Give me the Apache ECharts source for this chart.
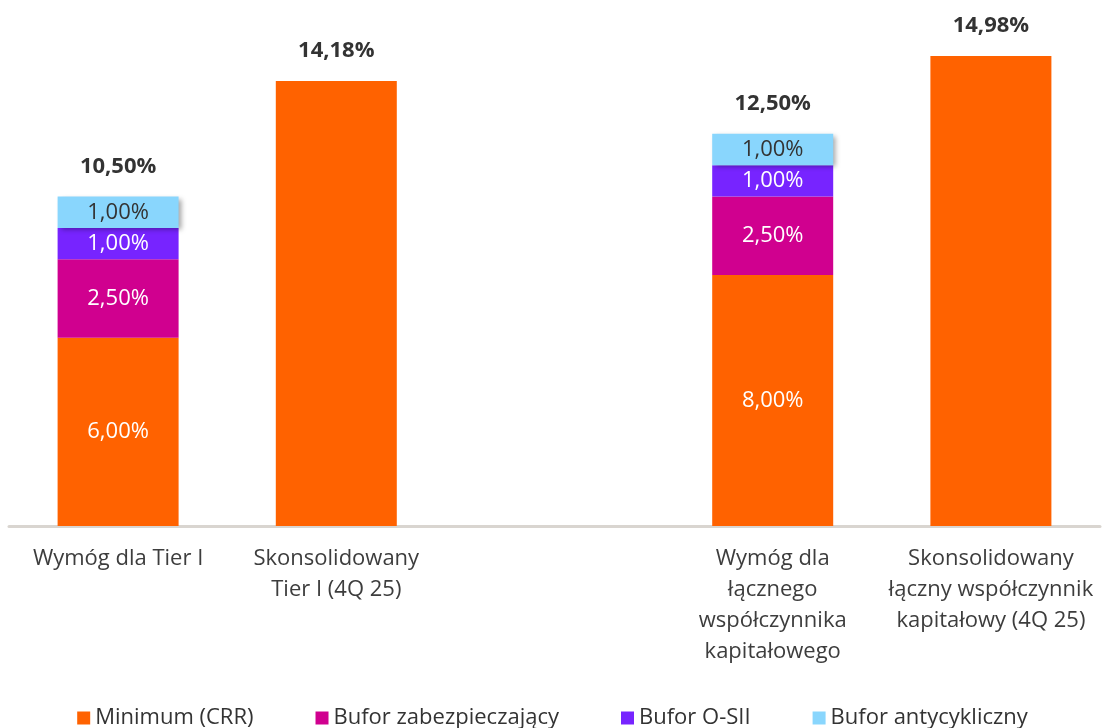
<!DOCTYPE html>
<html>
<head>
<meta charset="utf-8">
<script src="https://cdn.jsdelivr.net/npm/echarts@6/dist/echarts.min.js"></script>
<style>
  html, body { margin: 0; padding: 0; background: #fff; }
  #chart { width: 1105px; height: 728px; }
</style>
</head>
<body>
<div id="chart"></div>
<script>
const categories = [
  'Wymóg dla Tier I',
  'Skonsolidowany\nTier I (4Q 25)',
  '',
  'Wymóg dla\nłącznego\nwspółczynnika\nkapitałowego',
  'Skonsolidowany\nłączny współczynnik\nkapitałowy (4Q 25)'
];
const minimumCRR = [6.00, 14.18, null, 8.00, 14.98];
const buforZabezp = [2.50, null, null, 2.50, null];
const buforOSII = [1.00, null, null, 1.00, null];
const buforAntycykl = [1.00, null, null, 1.00, null];
const totals = [10.50, 14.18, null, 12.50, 14.98];

const FONT = '"Open Sans", sans-serif';
const fmt = v => v.toFixed(2).replace('.', ',') + '%';

const chart = echarts.init(document.getElementById('chart'), null, { renderer: 'canvas' });

// inside labels only for the stacked (requirement) bars
const insideLabel = (color) => ({
  show: true,
  position: 'inside',
  color: color,
  fontFamily: FONT,
  fontSize: 22,
  formatter: p => fmt(p.value)
});

const minimumData = minimumCRR.map((v, i) => {
  if (v == null) return '-';
  return buforZabezp[i] != null ? { value: v, label: insideLabel('#fff') } : { value: v };
});

chart.setOption({
  animation: false,
  grid: { left: 9, right: 5, top: 56, bottom: 202 },
  legend: {
    data: ['Minimum (CRR)', 'Bufor zabezpieczający', 'Bufor O-SII', 'Bufor antycykliczny'],
    top: 702,
    left: 'center',
    icon: 'rect',
    itemWidth: 13,
    itemHeight: 13,
    itemGap: 62,
    itemTextGap: 5,
    textStyle: { fontFamily: FONT, fontSize: 22, color: '#333' }
  },
  xAxis: {
    type: 'category',
    data: categories,
    axisLine: { lineStyle: { color: '#d9d5d0', width: 3 } },
    axisTick: { show: false },
    axisLabel: {
      interval: 0,
      margin: 17,
      color: '#3d3d3d',
      fontFamily: FONT,
      fontSize: 22,
      lineHeight: 31
    }
  },
  yAxis: { type: 'value', min: 0, max: 14.98, show: false, splitLine: { show: false } },
  series: [
    {
      name: 'Minimum (CRR)', type: 'bar', stack: 'a', barWidth: 121,
      itemStyle: { color: '#ff6200' },
      data: minimumData
    },
    {
      name: 'Bufor zabezpieczający', type: 'bar', stack: 'a', barWidth: 121,
      itemStyle: { color: '#d0008f' },
      label: insideLabel('#fff'),
      data: buforZabezp.map(v => v == null ? '-' : v)
    },
    {
      name: 'Bufor O-SII', type: 'bar', stack: 'a', barWidth: 121,
      itemStyle: { color: '#7724ff' },
      label: insideLabel('#fff'),
      data: buforOSII.map(v => v == null ? '-' : v)
    },
    {
      name: 'Bufor antycykliczny', type: 'bar', stack: 'a', barWidth: 121,
      itemStyle: {
        color: '#89d6fd',
        shadowColor: 'rgba(0,0,0,0.35)', shadowBlur: 5, shadowOffsetX: 3, shadowOffsetY: 2
      },
      label: insideLabel('#333'),
      data: buforAntycykl.map(v => v == null ? '-' : v)
    },
    {
      name: 'Suma', type: 'bar', stack: 'a', barWidth: 121,
      itemStyle: { color: 'transparent' },
      label: {
        show: true,
        position: 'top',
        distance: 19,
        color: '#333',
        fontFamily: FONT,
        fontSize: 22,
        fontWeight: 'bold',
        formatter: p => totals[p.dataIndex] == null ? '' : fmt(totals[p.dataIndex])
      },
      data: totals.map(v => v == null ? '-' : 0)
    }
  ]
});
</script>
</body>
</html>
